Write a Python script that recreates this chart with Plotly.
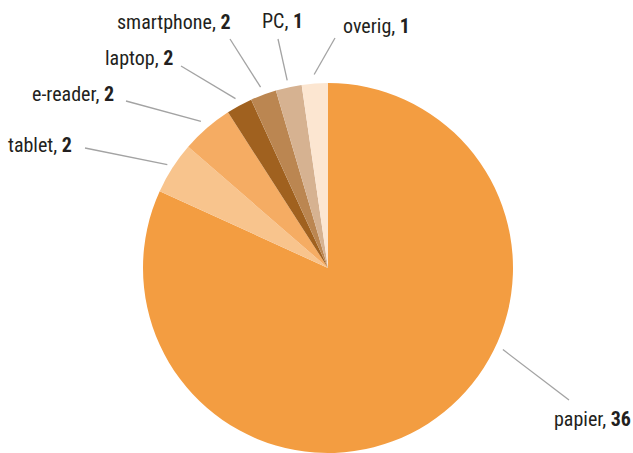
import math
import plotly.graph_objects as go

# ---- data ----
categories = ["papier", "tablet", "e-reader", "laptop", "smartphone", "PC", "overig"]
values = [36, 2, 2, 1, 1, 1, 1]          # slice sizes
shown = [36, 2, 2, 2, 2, 1, 1]           # numbers printed in the labels
colors = ["#F39D41", "#F8C48D", "#F5AC63", "#A0611F", "#BB8651", "#D6B291", "#FCE6D1"]

# ---- layout constants (pixels in 633x453 canvas) ----
W, H = 633, 453
ML, MR, MT, MB = 23, 0, 83, 0
PW, PH = W - ML - MR, H - MT - MB
CX, CY = ML + PW / 2, MT + PH / 2
R = min(PW, PH) / 2

FONT = "Roboto Condensed, Liberation Sans Narrow, Roboto, sans-serif"
FS = 20
TXT = "#231F20"
LINE = "#A3A3A3"

# label placement: (text x, text y centre, xanchor, line end x, line end y, offset from rim)
label_pos = {
    "papier":     (633, 418.5, "right", 569, 400, 8),
    "tablet":     (74, 145, "right", 85, 148, 6),
    "e-reader":   (116, 93.5, "right", 126, 101, 9),
    "laptop":     (175, 58.5, "right", 181, 66, 8),
    "smartphone": (233, 21.8, "right", 230, 39, 8),
    "PC":         (282.5, 21.2, "center", 278, 39, 7),
    "overig":     (341, 26.2, "left", 335, 38, 9),
}
papier_leader_angle = 115.0  # degrees clockwise from 12 o'clock


def px2paper(x, y):
    return (x - ML) / PW, (H - MB - y) / PH


fig = go.Figure(go.Pie(
    labels=categories,
    values=values,
    marker=dict(colors=colors, line=dict(width=0)),
    sort=False,
    direction="clockwise",
    rotation=0,
    textinfo="none",
    hoverinfo="label+value",
    showlegend=False,
    domain=dict(x=[0, 1], y=[0, 1]),
))

total = sum(values)
cum = 0.0
shapes, annotations = [], []
for cat, v, s in zip(categories, values, shown):
    start = cum / total * 360
    cum += v
    end = cum / total * 360
    mid = (start + end) / 2
    if cat == "papier":
        mid = papier_leader_angle
    tx, ty, xa, lx, ly, off = label_pos[cat]
    a = math.radians(mid)
    sx = CX + (R + off) * math.sin(a)
    sy = CY - (R + off) * math.cos(a)
    x0, y0 = px2paper(sx, sy)
    x1, y1 = px2paper(lx, ly)
    shapes.append(dict(type="line", xref="paper", yref="paper",
                       x0=x0, y0=y0, x1=x1, y1=y1,
                       line=dict(color=LINE, width=1.3)))
    axp, ayp = px2paper(tx, ty)
    annotations.append(dict(xref="paper", yref="paper", x=axp, y=ayp,
                            xanchor=xa, yanchor="middle", showarrow=False,
                            text=f"{cat}, <b>{s}</b>",
                            font=dict(family=FONT, size=FS, color=TXT)))

fig.update_layout(
    width=W, height=H,
    margin=dict(l=ML, r=MR, t=MT, b=MB),
    paper_bgcolor="white", plot_bgcolor="white",
    shapes=shapes, annotations=annotations,
)
fig.write_html("out.html", config={"displayModeBar": False},
               post_script="document.body.style.margin='0';")
